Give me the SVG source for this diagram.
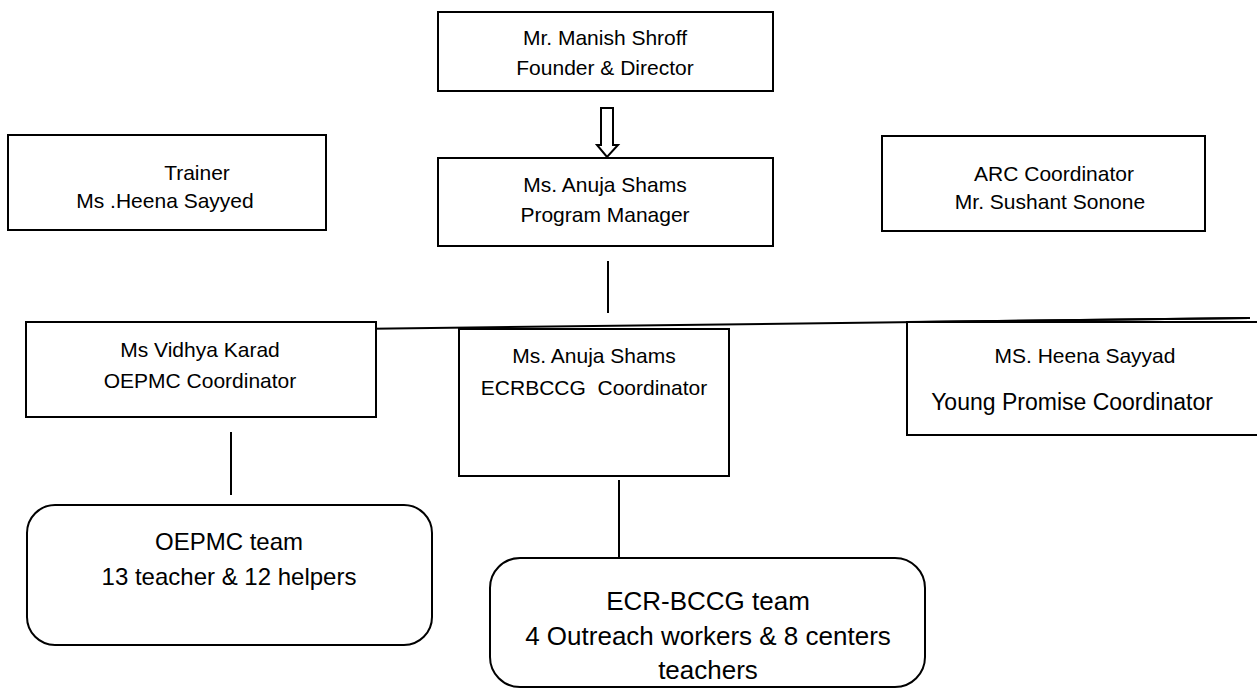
<svg xmlns="http://www.w3.org/2000/svg" width="1257" height="689" viewBox="0 0 1257 689">
<style>
.box{fill:#fff;stroke:#000;stroke-width:2}
.ln{stroke:#000;stroke-width:2;fill:none}
text{font-family:"Liberation Sans",Arial,sans-serif;font-size:21px;fill:#000;text-anchor:middle}
.big{font-size:24px}
.big2{font-size:26px}
</style>
<rect width="1257" height="689" fill="#fff"/>
<g id="connectors">
<line class="ln" x1="25" y1="333" x2="1250" y2="318"/>
<line class="ln" x1="608" y1="261" x2="608" y2="313"/>
<line class="ln" x1="231" y1="432" x2="231" y2="495"/>
<line class="ln" x1="619" y1="480" x2="619" y2="557"/>
<polygon class="ln" points="601,108 613,108 613,145 618,145 607,157 597,145 601,145" fill="#fff"/>
</g>
<g id="founder">
<rect class="box" x="438" y="12" width="335" height="79"/>
<text x="605" y="45">Mr. Manish Shroff</text>
<text x="605" y="75">Founder &amp; Director</text>
</g>
<g id="program-manager">
<rect class="box" x="438" y="158" width="335" height="88"/>
<text x="605" y="192">Ms. Anuja Shams</text>
<text x="605" y="222">Program Manager</text>
</g>
<g id="trainer">
<rect class="box" x="8" y="135" width="318" height="95"/>
<text x="197" y="180">Trainer</text>
<text x="165" y="208">Ms .Heena Sayyed</text>
</g>
<g id="arc">
<rect class="box" x="882" y="136" width="323" height="95"/>
<text x="1054" y="181">ARC Coordinator</text>
<text x="1050" y="209">Mr. Sushant Sonone</text>
</g>
<g id="oepmc-coord">
<rect class="box" x="26" y="322" width="350" height="95"/>
<text x="200" y="357">Ms Vidhya Karad</text>
<text x="200" y="388">OEPMC Coordinator</text>
</g>
<g id="ecrbccg-coord">
<rect class="box" x="459" y="329" width="270" height="147"/>
<text x="594" y="363">Ms. Anuja Shams</text>
<text x="594" y="395" xml:space="preserve">ECRBCCG  Coordinator</text>
</g>
<g id="young-promise">
<rect class="box" x="907" y="322" width="360" height="113"/>
<line class="ln" x1="907" y1="322" x2="1250" y2="318"/>
<text x="1085" y="363">MS. Heena Sayyad</text>
<text x="1072" y="410" style="font-size:23px">Young Promise Coordinator</text>
</g>
<g id="oepmc-team">
<rect class="box" x="27" y="505" width="405" height="140" rx="28"/>
<text class="big" x="229" y="550">OEPMC team</text>
<text class="big" x="229" y="585">13 teacher &amp; 12 helpers</text>
</g>
<g id="ecr-team">
<rect class="box" x="490" y="558" width="435" height="129" rx="30"/>
<text class="big2" x="708" y="610">ECR-BCCG team</text>
<text class="big2" x="708" y="645">4 Outreach workers &amp; 8 centers</text>
<text class="big2" x="708" y="679">teachers</text>
</g>
</svg>
